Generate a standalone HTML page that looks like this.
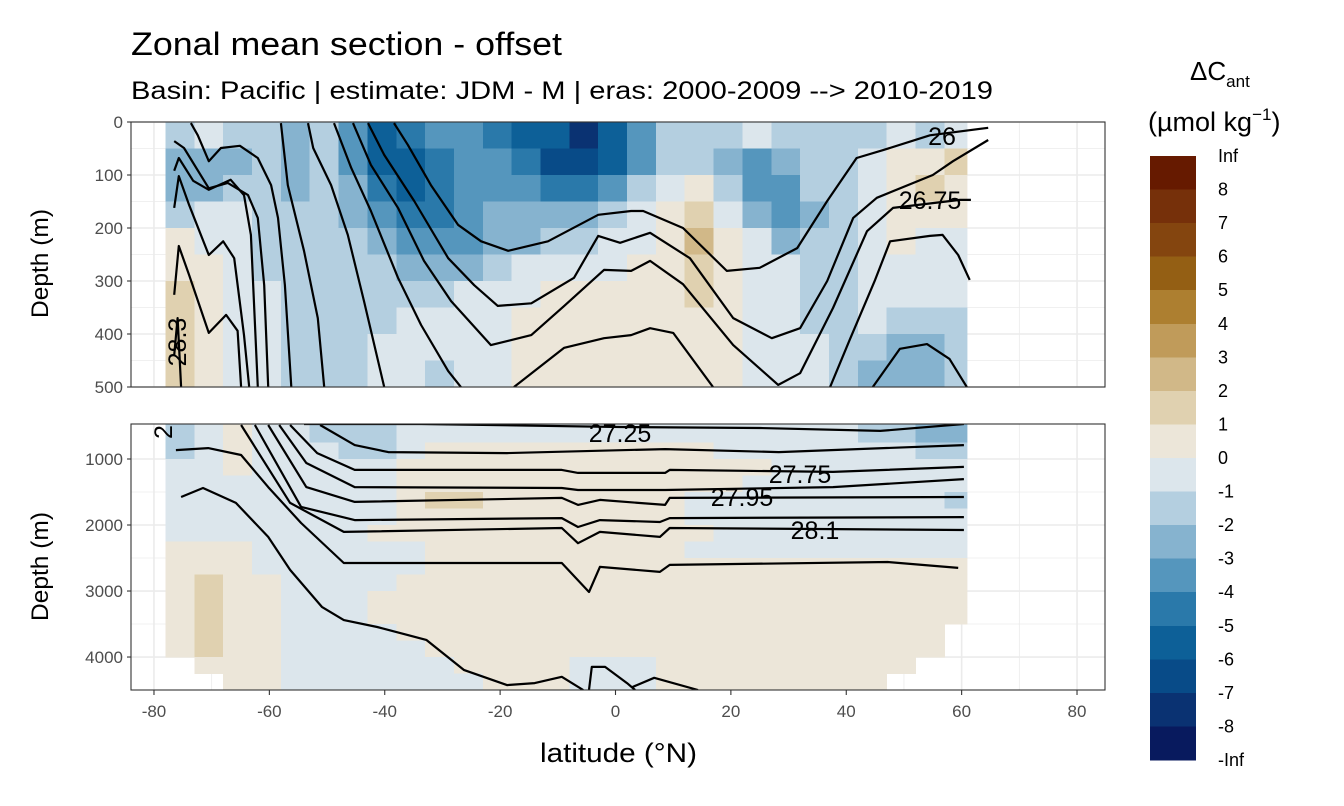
<!DOCTYPE html>
<html><head><meta charset="utf-8"><style>
body{margin:0;background:#fff;}
svg{display:block;font-family:"Liberation Sans",sans-serif;}
</style></head><body>
<svg id="chart" width="1344" height="806" viewBox="0 0 1344 806">
<text x="131" y="55" font-size="32" textLength="431" lengthAdjust="spacingAndGlyphs" fill="#000">Zonal mean section - offset</text>
<text x="131" y="99" font-size="25" textLength="862" lengthAdjust="spacingAndGlyphs" fill="#000">Basin: Pacific | estimate: JDM - M | eras: 2000-2009 --&gt; 2010-2019</text>
<g id="panels"></g>
<text x="540" y="762" font-size="27" textLength="157" lengthAdjust="spacingAndGlyphs">latitude (°N)</text>
<text transform="translate(48,318) rotate(-90)" font-size="24" textLength="109" lengthAdjust="spacingAndGlyphs">Depth (m)</text>
<text transform="translate(48,621) rotate(-90)" font-size="24" textLength="109" lengthAdjust="spacingAndGlyphs">Depth (m)</text>
<g>
<text x="1190" y="80" font-size="26">ΔC<tspan font-size="17" dy="7">ant</tspan></text>
<text x="1148" y="131" font-size="27">(µmol kg<tspan font-size="17" dy="-11">−1</tspan><tspan dy="11">)</tspan></text>
<g id="colorbar"></g>
</g>
</svg>
<script>
const NS='http://www.w3.org/2000/svg';
const svg=document.getElementById('chart');
const lats=[-75.5,-70.5,-65.5,-60.5,-55.5,-50.5,-45.5,-40.5,-35.5,-30.5,-25.5,-20.5,-15.5,-10.5,-5.5,-0.5,4.5,9.5,14.5,19.5,24.5,29.5,34.5,39.5,44.5,49.5,54.5,59.5];
const topDepths=[25,75,125,175,225,275,325,375,425,475];
const botDepths=[625,875,1125,1375,1625,1875,2125,2375,2625,2875,3125,3375,3625,3875,4125,4375];
const topValues=[
[-2,-1,-2,-2,-3,-2,-4,-6,-5,-4,-4,-5,-6,-6,-8,-6,-4,-2,-2,-2,-1,-2,-2,-2,-2,-1,-2,-1],
[-3,-3,-3,-2,-3,-2,-4,-6,-6,-5,-4,-4,-5,-7,-7,-6,-4,-2,-2,-3,-4,-3,-2,-2,-1,1,1,2],
[-3,-3,-2,-2,-3,-2,-3,-5,-6,-5,-4,-4,-4,-5,-5,-4,-2,-1,1,-2,-4,-4,-2,-2,-1,1,2,1],
[-2,-1,-1,-2,-2,-2,-3,-4,-5,-5,-4,-3,-3,-3,-3,-2,-1,1,2,-1,-3,-4,-3,-2,-1,1,1,1],
[1,-1,-1,-2,-2,-2,-2,-3,-4,-4,-4,-3,-3,-2,-2,-1,-1,1,3,1,-1,-3,-2,-2,-1,1,-1,-1],
[1,1,-1,-2,-2,-2,-2,-2,-3,-3,-3,-2,-1,-1,-1,-1,1,1,2,1,-1,-1,-2,-2,-1,-1,-1,-1],
[2,1,-1,-1,-2,-2,-2,-2,-2,-2,-1,-1,-1,1,1,1,1,1,2,1,-1,-1,-2,-2,-1,-1,-1,-1],
[2,1,-1,-1,-2,-2,-2,-2,-1,-1,-1,-1,1,1,1,1,1,1,1,1,-1,-1,-2,-2,-1,-2,-2,-2],
[2,1,-1,-1,-2,-2,-2,-1,-1,-1,-1,-1,1,1,1,1,1,1,1,1,-1,-1,-1,-2,-2,-3,-3,-2],
[2,1,-1,-1,-2,-2,-2,-1,-1,-2,-1,-1,1,1,1,1,1,1,1,1,-1,-1,-1,-2,-3,-3,-3,-2]];
const botValues=[
[-2,-1,1,-1,-1,-2,-2,-2,-1,-1,-1,-1,-1,-1,-1,-1,-1,-1,-1,-1,-1,-1,-1,-1,-2,-2,-3,-3],
[-2,-1,1,-1,-1,-1,-2,-2,-1,1,1,1,1,1,1,1,1,1,1,-1,-1,-1,-1,-1,-1,-1,-2,-2],
[-1,-1,1,-1,-1,-1,-1,-1,1,1,1,1,1,1,1,1,1,1,1,1,1,-1,-1,-1,-1,-1,-1,-1],
[-1,-1,-1,-1,-1,-1,-1,-1,1,1,1,1,1,1,1,1,1,1,1,1,-1,-1,-1,-1,-1,-1,-1,-1],
[-1,-1,-1,-1,-1,-1,-1,-1,1,2,2,1,1,1,1,1,1,1,-1,-1,-1,-1,-1,-1,-1,-1,-1,-2],
[-1,-1,-1,-1,-1,-1,-1,-1,1,1,1,1,1,1,1,1,1,1,-1,-1,-1,-1,-1,-1,-1,-1,-1,-1],
[-1,-1,-1,-1,-1,-1,-1,1,1,1,1,1,1,1,1,1,1,1,1,-1,-1,-1,-1,-1,-1,-1,-1,-1],
[1,1,1,-1,-1,-1,-1,-1,-1,1,1,1,1,1,1,1,1,1,-1,-1,-1,-1,-1,-1,-1,-1,-1,-1],
[1,1,1,-1,-1,-1,-1,-1,-1,1,1,1,1,1,1,1,1,1,1,1,1,1,1,1,1,1,1,1],
[1,2,1,1,-1,-1,-1,-1,1,1,1,1,1,1,1,1,1,1,1,1,1,1,1,1,1,1,1,1],
[1,2,1,1,-1,-1,-1,1,1,1,1,1,1,1,1,1,1,1,1,1,1,1,1,1,1,1,1,1],
[1,2,1,1,-1,-1,-1,1,1,1,1,1,1,1,1,1,1,1,1,1,1,1,1,1,1,1,1,1],
[1,2,1,1,-1,-1,-1,-1,1,1,1,1,1,1,1,1,1,1,1,1,1,1,1,1,1,1,1,0],
[1,2,1,1,-1,-1,-1,-1,-1,1,1,1,1,1,1,1,1,1,1,1,1,1,1,1,1,1,1,0],
[0,1,1,1,-1,-1,-1,-1,-1,-1,1,1,1,1,-1,-1,-1,1,1,1,1,1,1,1,1,1,0,0],
[0,0,1,1,-1,-1,-1,-1,-1,-1,-1,1,1,1,-1,-1,-1,1,1,1,1,1,1,1,1,0,0,0]];
const xTicks=[-80,-60,-40,-20,0,20,40,60,80];
const topTicks=[0,100,200,300,400,500];
const botTicks=[1000,2000,3000,4000];
const legendLabels=['Inf','8','7','6','5','4','3','2','1','0','-1','-2','-3','-4','-5','-6','-7','-8','-Inf'];
const contoursTop=[
[[-38.4,2],[-36,43],[-32,119],[-27.3,194],[-23.3,225],[-18.6,243],[-11.7,225],[-3,175],[2.7,168],[4.8,168],[11.7,200],[19.3,281],[25,275],[31.5,238],[36.7,149],[41.8,68],[46.4,53],[54.5,25],[64.6,11]],
[[-42.9,2],[-40.1,62],[-34.9,149],[-29,257],[-24.5,308],[-20.4,347],[-14.6,342],[-7.2,294],[-3,215],[0.8,228],[6,209],[12.9,257],[20.4,370],[27.1,408],[32,389],[36.7,300],[41.2,181],[45.3,143],[55,100],[58.5,74],[64.6,34]],
[[-45.5,2],[-42.4,81],[-37.7,162],[-33.2,262],[-28.5,338],[-21.6,421],[-14.6,402],[-8.9,347],[-2,279],[2.7,281],[6,262],[11.7,306],[20.4,421],[28.2,496],[32,474],[37.7,351],[43.6,206],[48.1,162],[59.7,147],[61.6,147]],
[[-48.8,2],[-45.8,87],[-42.4,168],[-37.7,294],[-33.7,383],[-29,470],[-26.8,500]],
[[-17.6,500],[-8.9,426],[-2,408],[2.7,402],[6,389],[10,398],[16.9,500]],
[[37.2,500],[40.6,411],[45,298],[47.6,225],[54.5,215],[56.7,213],[59.4,251],[61.4,298]],
[[44.6,500],[49.3,428],[54,419],[57.9,447],[60.9,500]],
[[-58,2],[-56.8,119],[-54,243],[-51.6,370],[-50.5,500]],
[[-53.3,2],[-52.4,49],[-49.3,119],[-46.4,213],[-43.6,338],[-40.1,500]],
[[-73.6,2],[-72.4,25],[-70.5,74],[-68.4,49],[-65.1,45],[-62,68],[-59.7,119],[-58.5,181],[-57.3,308],[-56.2,500]],
[[-76.5,36],[-74.8,49],[-70.5,125],[-67.2,115],[-63.7,138],[-62,181],[-60.9,308],[-60.2,500]],
[[-76.5,92],[-75.7,68],[-73.2,111],[-70.5,128],[-66.7,109],[-64.4,138],[-63.2,213],[-62,500]],
[[-76.5,162],[-75.7,102],[-73.9,157],[-70.5,251],[-68,225],[-66.1,257],[-64.4,402],[-63.5,500]],
[[-76.5,326],[-75.7,234],[-73.9,289],[-70.5,398],[-67.5,364],[-65.5,394],[-64.9,500]],
[[-76.5,440],[-75.9,370],[-75.3,500]]];
const contoursBot=[
[[-54,470],[-33.7,470],[0.8,515],[25,530],[45.9,575],[60.4,470]],
[[-51.2,485],[-45.2,790],[-39.4,895],[-18.8,910],[8.6,850],[28.3,895],[60.4,790]],
[[-56.4,485],[-51.7,910],[-45.2,1165],[-9.3,1165],[-6.5,1210],[8.6,1210],[9.4,1165],[37.7,1195],[60.4,1120]],
[[-58.3,485],[-53.6,1060],[-45.2,1425],[-9.3,1440],[-6.5,1470],[8.6,1470],[37.7,1425],[60.4,1305]],
[[-60.2,485],[-53.6,1425],[-45.2,1650],[-9.3,1590],[-6.5,1695],[-2.7,1620],[8.6,1695],[9.4,1590],[60.4,1575]],
[[-62.5,485],[-54.5,1725],[-45.2,1925],[-9.3,1895],[-6.5,2030],[-2.7,1925],[7.7,1955],[9.4,1895],[60.4,1880]],
[[-64.9,485],[-56.4,1665],[-47.1,2105],[-9.3,2045],[-6.5,2275],[-2.7,2105],[7.7,2180],[9.4,2045],[60.4,2075]],
[[-76.2,865],[-70.6,835],[-64.9,940],[-60.2,1425],[-54.5,1970],[-47.1,2575],[-9.3,2575],[-4.6,3015],[-2.7,2635],[7.7,2710],[9.4,2605],[47.2,2560],[59.4,2650]],
[[-75.3,1575],[-71.5,1440],[-65.8,1665],[-60.2,2180],[-56.4,2680],[-50.9,3240],[-47.1,3440],[-41.3,3545],[-32.8,3740],[-26.3,4195],[-18.8,4425],[-14,4395],[-9.3,4300],[-5.6,4500]],
[[-4.6,4500],[-4.1,4150],[-1.8,4150],[2,4395],[3.4,4500]],
[[2.9,4455],[6.7,4315],[14.3,4500]]];
const posCols=['#ece6d9','#e0d1b0','#d1b888','#c09b5a','#ad7f30','#945f14','#84450f','#76300a','#661a00'];
const negCols=['#dce6ec','#b4cfe0','#86b3cf','#5596bd','#2a79aa','#0d6098','#084b88','#0a3272','#081a5e'];
function col(v){return v>0?posCols[Math.min(v,9)-1]:negCols[Math.min(-v,9)-1];}
const X0=131,X1=1105;
function xS(lat){return 615.5+lat*5.769;}
function yT(d){return 122+d*0.53;}
function yB(d){return 459+(d-1000)/15.15;}
function mk(tag,attrs,parent){const e=document.createElementNS(NS,tag);for(const k in attrs)e.setAttribute(k,attrs[k]);parent.appendChild(e);return e;}
const root=document.getElementById('panels');
const defs=mk('defs',{},root);
function panel(name,y0,y1,yf,ticks,depths,values,half,contours){
  const g=mk('g',{},root);
  
  
  mk('rect',{x:X0,y:y0,width:X1-X0,height:y1-y0,fill:'#fff'},g);
  for(let la=-90;la<=90;la+=10){const x=xS(la);if(x<X0||x>X1)continue;
    const l=mk('line',{x1:x,x2:x,y1:y0,y2:y1,stroke:'#ebebeb','stroke-width':la%20===0?1.6:0.8},g);
    
    }
  for(let i=0;i<ticks.length;i++){const y=yf(ticks[i]);
    const l=mk('line',{x1:X0,x2:X1,y1:y,y2:y,stroke:'#ebebeb','stroke-width':1.6},g);
    
    
    if(i<ticks.length-1){const ym=yf((ticks[i]+ticks[i+1])/2);mk('line',{x1:X0,x2:X1,y1:ym,y2:ym,stroke:'#ebebeb','stroke-width':0.8},g);}}
  const id='clip'+name;
  const cp=mk('clipPath',{id:id},defs);
  mk('rect',{x:xS(-78),y:y0,width:xS(61)-xS(-78),height:y1-y0},cp);
  const hg=mk('g',{'clip-path':'url(#'+id+')','shape-rendering':'crispEdges'},g);
  
  
  for(let r=0;r<depths.length;r++)for(let c=0;c<lats.length;c++){
    const v=values[r][c];if(!v)continue;
    const xa=xS(lats[c]-2.5),xb=xS(lats[c]+2.5);
    let ya=yf(depths[r]-half),yb=yf(depths[r]+half);
    if(r===0)ya=y0;
    const cell=mk('rect',{x:xa,y:ya,width:xb-xa+0.6,height:yb-ya+0.6,fill:col(v)},hg);
    
    
  }
  const cp2=mk('clipPath',{id:id+'b'},defs);
  mk('rect',{x:X0,y:y0,width:X1-X0,height:y1-y0},cp2);
  const cg=mk('g',{'clip-path':'url(#'+id+'b)'},g);
  for(const line of contours){
    const p=mk('polyline',{points:line.map(q=>xS(q[0]).toFixed(1)+','+yf(q[1]).toFixed(1)).join(' '),fill:'none',stroke:'#000','stroke-width':2.2,'stroke-linejoin':'round'},cg);
    
    
  }
  mk('rect',{x:X0,y:y0,width:X1-X0,height:y1-y0,fill:'none',stroke:'#333','stroke-width':1.1},g);
  for(const t of ticks){const y=yf(t);
    mk('line',{x1:X0-4,x2:X0,y1:y,y2:y,stroke:'#333','stroke-width':1.1},g);
    const tx=mk('text',{x:X0-8,y:y+6,'font-size':17,'text-anchor':'end',fill:'#4d4d4d'},g);
    tx.textContent=t;
    
    }
  return cg;
}
const cgT=panel('top-panel',122,387,yT,topTicks,topDepths,topValues,25,contoursTop);
const cgB=panel('bottom-panel',424,690,yB,botTicks,botDepths,botValues,125,contoursBot);
function lab(parent,txt,x,y,rot){const t=mk('text',{x:x,y:y,'font-size':25,'text-anchor':'middle',fill:'#000'},parent);
  if(rot)t.setAttribute('transform','rotate('+rot+' '+x+' '+y+')');
  t.textContent=txt;
  
  }
lab(cgT,'26',942,145);lab(cgT,'26.75',930,209);lab(cgT,'28.3',186,342,-90);
lab(cgB,'27.25',620,442);lab(cgB,'27.75',800,483);lab(cgB,'27.95',742,506);lab(cgB,'28.1',815,539);lab(cgB,'2',172,432,-90);
for(const t of xTicks){const x=xS(t);
  mk('line',{x1:x,x2:x,y1:690,y2:695,stroke:'#333','stroke-width':1.1},root);
  const tx=mk('text',{x:x,y:717,'font-size':17,'text-anchor':'middle',fill:'#4d4d4d'},root);
  tx.textContent=t;
  
  }
const cb=document.getElementById('colorbar');
const cbTop=156,cbBot=760,nb=legendLabels.length-1,bh=(cbBot-cbTop)/nb;
for(let i=0;i<nb;i++){
  const v=i<9?9-i:-(i-8);
  const r=mk('rect',{x:1150,y:cbTop+i*bh,width:46,height:bh+0.5,fill:col(v),'shape-rendering':'crispEdges'},cb);
  
  }
for(let i=0;i<legendLabels.length;i++){
  const t=mk('text',{x:1218,y:cbTop+i*bh+6,'font-size':18,fill:'#000'},cb);
  t.textContent=legendLabels[i];
  
  }
</script>
</body></html>
